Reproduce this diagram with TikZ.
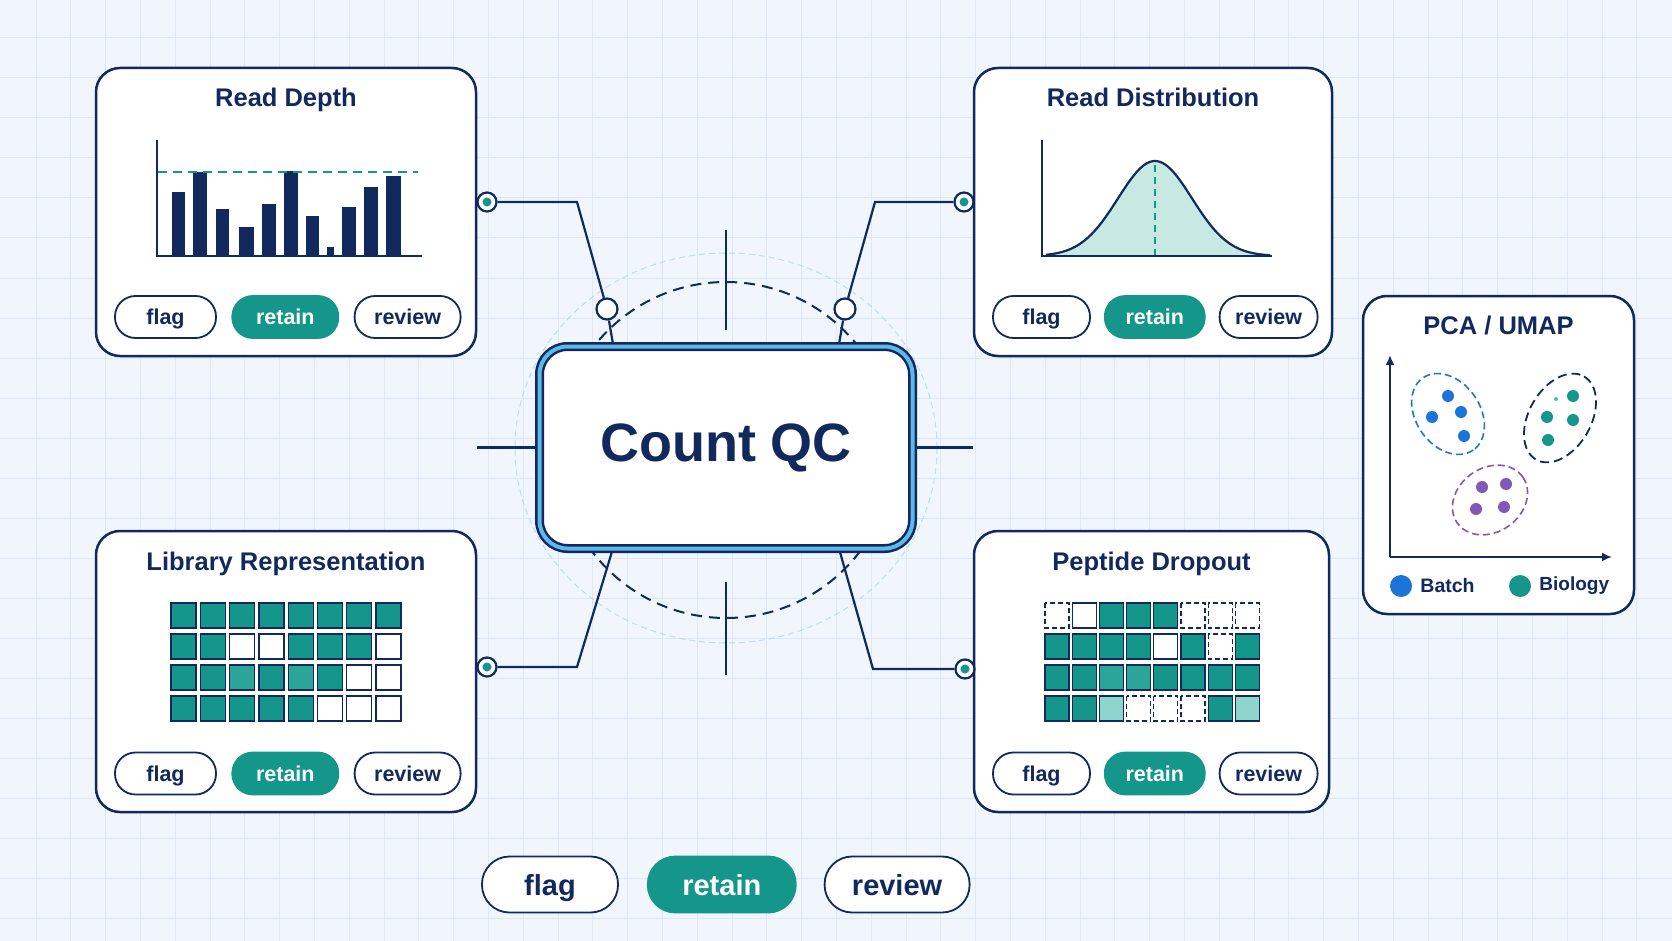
\documentclass[tikz,border=0pt]{standalone}
\usepackage{fontspec}
\setmainfont{Liberation Sans}
\usetikzlibrary{positioning, arrows.meta, backgrounds}
\definecolor{qcnavy}{HTML}{12295E}
\definecolor{qcteal}{HTML}{14968A}
\definecolor{qctealmid}{HTML}{2BA597}
\definecolor{qctealpale}{HTML}{8ED6CB}
\definecolor{qcbell}{HTML}{C6E9E3}
\definecolor{qcsky}{HTML}{5CB9EA}
\definecolor{qcbg}{HTML}{F1F6FC}
\definecolor{qcgrid}{HTML}{DCE8F5}
\definecolor{qcblue}{HTML}{1C74DA}
\definecolor{qcpurple}{HTML}{8257B8}

\tikzset{
  panel/.style={draw=qcnavy, line width=2.5pt, fill=white, rounded corners=24pt, inner sep=0pt},
  ptitle/.style={text=qcnavy, font=\bfseries\fontsize{25.5}{30}\selectfont, text height=18pt, text depth=5pt, inner sep=0pt},
  pill/.style={draw=qcnavy, line width=1.8pt, fill=white, rounded corners=20.5pt, minimum height=42pt,
    inner sep=0pt, text=qcnavy, text height=15pt, text depth=0pt, font=\bfseries\fontsize{21.5}{24}\selectfont},
  pillon/.style={pill, draw=qcteal, fill=qcteal, text=white},
  bigpill/.style={minimum height=56pt, rounded corners=27.5pt, text height=22pt, font=\bfseries\fontsize{29}{33}\selectfont},
  port/.style={circle, draw=qcnavy, line width=2.2pt, fill=white, minimum size=19pt, inner sep=0pt,
    path picture={\fill[qcteal] (path picture bounding box.center) circle[radius=4.5pt];}},
  joint/.style={circle, draw=qcnavy, line width=2.2pt, fill=white, minimum size=21pt, inner sep=0pt},
  wire/.style={draw=qcnavy, line width=2.2pt},
  cellf/.style={fill=qcteal, draw=qcnavy, line width=1.3pt},
  cellm/.style={fill=qctealmid, draw=qcnavy, line width=1.3pt},
  celll/.style={fill=qctealpale, draw=qcnavy, line width=1.3pt},
  celle/.style={fill=white, draw=qcnavy, line width=1.3pt},
  celld/.style={fill=white, draw=qcnavy, line width=1.3pt, dash pattern=on 5pt off 3pt},
}

% a row of three decision pills
\newcommand{\qcpills}[7]{%
  \node[pill, minimum width=#4] (#1flag) at (#2,#3) {flag};
  \node[pillon, minimum width=#5, right=#7 of #1flag] (#1retain) {retain};
  \node[pill, minimum width=#6, right=#7 of #1retain] (#1review) {review};}

\begin{document}
\begin{tikzpicture}[x=1pt, y=-1pt]
  \useasboundingbox (0,0) rectangle (1672,941);

  % central hub
  \node[draw=qcnavy, line width=2.5pt, double=qcsky, double distance=4pt, fill=white,
        rounded corners=28pt, minimum width=373pt, minimum height=202pt,
        text=qcnavy, font=\bfseries\fontsize{54}{62}\selectfont] (qc) at (726,447.5) {Count QC};

  % panels
  \node[panel, minimum width=380pt, minimum height=288pt] (depth) at (286,212) {};
  \node[panel, minimum width=358pt, minimum height=288pt] (dist) at (1153,212) {};
  \node[panel, minimum width=380pt, minimum height=281pt] (lib) at (286,671.5) {};
  \node[panel, minimum width=355pt, minimum height=281pt] (drop) at (1151.5,671.5) {};
  \node[panel, minimum width=271pt, minimum height=318pt] (pca) at (1498.5,455) {};

  \node[ptitle] at ([yshift=-33pt]depth.north) {Read Depth};
  \node[ptitle] at ([yshift=-33pt]dist.north) {Read Distribution};
  \node[ptitle] at ([yshift=-34pt]lib.north) {Library Representation};
  \node[ptitle] at ([yshift=-34pt]drop.north) {Peptide Dropout};
  \node[ptitle] at ([yshift=-33pt]pca.north) {PCA / UMAP};

  % ports and joints
  \node[port] (pDepth) at (487,202) {};
  \node[port] (pDist) at (964,202) {};
  \node[port] (pLib) at (487,667) {};
  \node[port] (pDrop) at (965,669) {};
  \node[joint] (jDepth) at (607,309) {};
  \node[joint] (jDist) at (845,309) {};

  % read depth bars
  \foreach \a/\b/\c in {172/185/192, 193/207/172, 216/229/209, 239/254/227, 262/276/204, 284/298/171,
                        306/319/216, 327/334/247, 342/356/207, 364/378/187, 386/401/176}
    \fill[qcnavy] (\a,256) rectangle (\b,\c);
  \draw[qcnavy, line width=2.2pt] (157,140) -- (157,256) -- (422,256);
  \draw[qcteal, line width=2pt, dash pattern=on 9pt off 6pt] (158,172) -- (418,172);

  % read distribution curve
  \fill[qcbell] (1046,256) -- plot[domain=1046:1268, samples=70] (\x,{256-95*exp(-((\x-1155)^2)/2738)}) -- (1268,256) -- cycle;
  \draw[qcteal, line width=2pt, dash pattern=on 7pt off 5pt] (1155,256) -- (1155,162);
  \draw[qcnavy, line width=2.2pt] plot[domain=1046:1270, samples=70] (\x,{256-95*exp(-((\x-1155)^2)/2738)});
  \draw[qcnavy, line width=2.2pt] (1042,140) -- (1042,256) -- (1272,256);

  % library cells
  \foreach \r/\pat in {0/{f,f,f,f,f,f,f,f}, 1/{f,f,e,e,f,f,f,e}, 2/{f,f,m,f,m,f,e,e}, 3/{f,f,f,f,f,e,e,e}}
    \foreach \k [count=\c from 0] in \pat
      \draw[cell\k] ({171+29.3*\c},{603+31*\r}) rectangle ++(25,25);

  % dropout cells
  \foreach \r/\pat in {0/{d,e,f,f,f,d,d,d}, 1/{f,f,f,f,e,f,d,f}, 2/{f,f,m,m,f,f,f,f}, 3/{f,f,l,d,d,d,f,l}}
    \foreach \k [count=\c from 0] in \pat
      \draw[cell\k] ({1045+27.2*\c},{603+31*\r}) rectangle ++(24,25);

  % pca / umap
  \draw[qcnavy, line width=2.2pt, -{Latex[length=10pt, width=9pt]}] (1390,557) -- (1390,355);
  \draw[qcnavy, line width=2.2pt, -{Latex[length=10pt, width=9pt]}] (1390,557) -- (1612,557);
  \draw[qcblue, line width=1.6pt, dash pattern=on 7pt off 4pt, rotate around={-55:(1448,414)}]
    (1448,414) ellipse[x radius=44, y radius=32];
  \draw[qcnavy, line width=1.8pt, dash pattern=on 9pt off 5pt, rotate around={60:(1560,418)}]
    (1560,418) ellipse[x radius=48, y radius=31];
  \draw[qcpurple, line width=1.6pt, dash pattern=on 7pt off 4pt, rotate around={35:(1490,500)}]
    (1490,500) ellipse[x radius=40, y radius=32];
  \foreach \p in {(1448,396), (1432,417), (1461,412), (1464,436)}
    \fill[qcblue] \p circle[radius=6];
  \foreach \p in {(1573,396), (1547,417), (1573,420), (1548,440)}
    \fill[qcteal] \p circle[radius=6];
  \fill[qcteal!70] (1556,399) circle[radius=2];
  \foreach \p in {(1482,487), (1506,484), (1476,509), (1504,507)}
    \fill[qcpurple] \p circle[radius=6];
  \node[circle, fill=qcblue, minimum size=22pt, inner sep=0pt] (kBatch) at (1401,586) {};
  \node[right=8pt of kBatch, text=qcnavy, font=\bfseries\fontsize{19.5}{22}\selectfont, inner sep=0pt] {Batch};
  \node[circle, fill=qcteal, minimum size=22pt, inner sep=0pt] (kBio) at (1520,586) {};
  \node[right=8pt of kBio, text=qcnavy, font=\bfseries\fontsize{19}{22}\selectfont, inner sep=0pt] {Biology};

  % decision pills
  \qcpills{d}{165.5}{317}{101pt}{106pt}{106pt}{14.5pt}
  \qcpills{r}{1041.5}{317}{97pt}{100pt}{98pt}{13pt}
  \qcpills{l}{165.5}{773.5}{101pt}{106pt}{106pt}{14.5pt}
  \qcpills{p}{1041.5}{773.5}{97pt}{100pt}{98pt}{13pt}

  % legend
  \node[pill, bigpill, minimum width=136pt] (kFlag) at (550,884.5) {flag};
  \node[pillon, bigpill, minimum width=148pt, right=28pt of kFlag] (kRetain) {retain};
  \node[pill, bigpill, minimum width=145pt, right=27pt of kRetain] (kReview) {review};

  \begin{pgfonlayer}{background}
    \fill[qcbg] (0,0) rectangle (1672,941);
    \foreach \i in {0,...,46}
      \draw[qcgrid, line width=1pt] ({36+34.8*\i},0) -- ({36+34.8*\i},941);
    \foreach \j in {0,...,23}
      \draw[qcgrid, line width=1pt] (0,{38+40*\j}) -- (1672,{38+40*\j});
    % rings and crosshair
    \draw[qcsky!45, line width=1pt, dash pattern=on 6pt off 4pt] (726,448) ellipse[x radius=211, y radius=195];
    \draw[qcnavy, line width=2pt, dash pattern=on 11pt off 7pt] (726,450) circle[radius=168];
    \draw[wire] (726,230) -- (726,330);
    \draw[wire] (726,582) -- (726,675);
    \draw[wire] (qc.west) -- (qc.west -| lib.east);
    \draw[wire] (qc.east) -- (qc.east -| drop.west);
    % connectors
    \draw[wire] (pDepth) -- (577,202) -- (jDepth);
    \draw[wire] (jDepth) -- (614,350);
    \draw[wire] (pDist) -- (875,202) -- (jDist);
    \draw[wire] (jDist) -- (838,350);
    \draw[wire] (pLib) -- (577,667) -- (614,545);
    \draw[wire] (pDrop) -- (873,669) -- (838,545);
  \end{pgfonlayer}
\end{tikzpicture}
\end{document}
